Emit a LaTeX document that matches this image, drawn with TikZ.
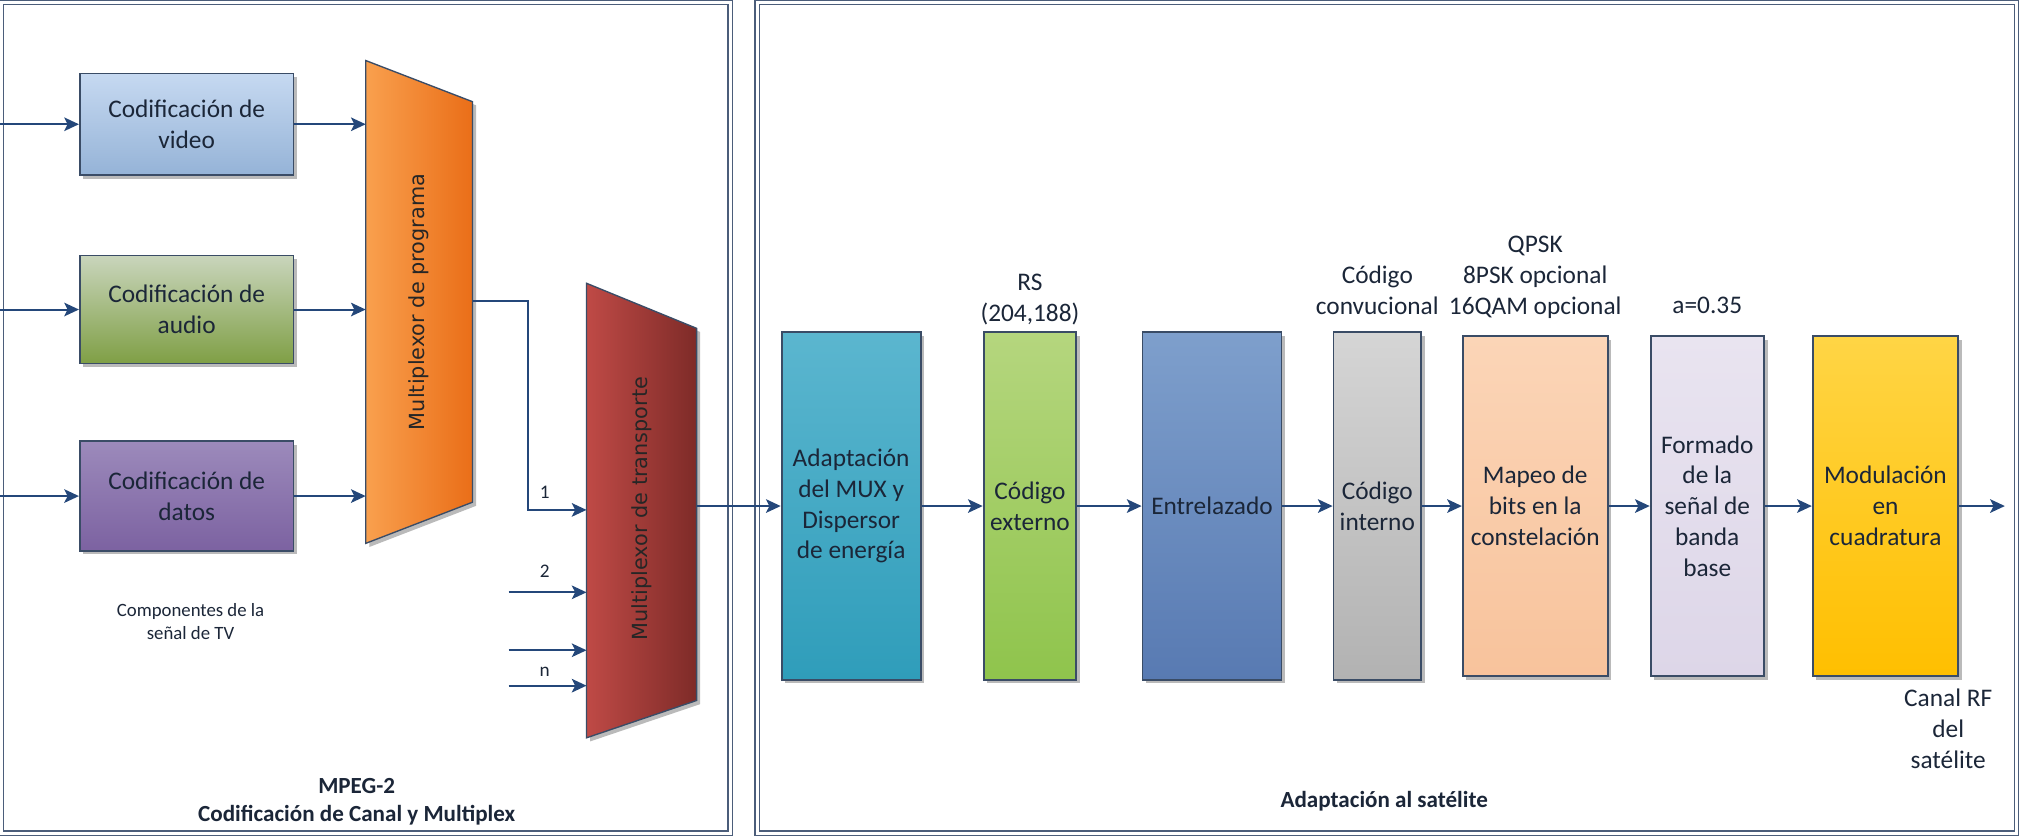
\documentclass[tikz,border=0pt]{standalone}
\usepackage{fontspec}
\setmainfont{Carlito}
\newfontfamily\muxfont{DejaVu Sans}
\usetikzlibrary{positioning,arrows.meta,shadows}

\definecolor{arrowc}{HTML}{24477A}
\definecolor{edgec}{HTML}{3A4C66}
\definecolor{framec}{HTML}{4B5D7A}
\definecolor{txtc}{HTML}{1B2638}
\definecolor{vidT}{HTML}{C6D9F1}\definecolor{vidB}{HTML}{95B3D7}
\definecolor{audT}{HTML}{C9D5BC}\definecolor{audB}{HTML}{7F9F45}
\definecolor{datT}{HTML}{9C8ABB}\definecolor{datB}{HTML}{7C62A1}
\definecolor{orgL}{HTML}{F9A04E}\definecolor{orgR}{HTML}{EA6E18}
\definecolor{redL}{HTML}{BF4A46}\definecolor{redR}{HTML}{7E2B28}
\definecolor{adaT}{HTML}{5BB6CF}\definecolor{adaB}{HTML}{2F9DBA}
\definecolor{extT}{HTML}{B5D67E}\definecolor{extB}{HTML}{8FC44C}
\definecolor{entT}{HTML}{7E9FCC}\definecolor{entB}{HTML}{587AB2}
\definecolor{intT}{HTML}{D5D5D5}\definecolor{intB}{HTML}{B2B2B2}
\definecolor{mapT}{HTML}{FBD5B7}\definecolor{mapB}{HTML}{F8C39C}
\definecolor{forT}{HTML}{E9E4F0}\definecolor{forB}{HTML}{DDD6E8}
\definecolor{modT}{HTML}{FFD545}\definecolor{modB}{HTML}{FFBF00}

\begin{document}
\begin{tikzpicture}[
  x=0.02cm, y=-0.02cm,
  box/.style={
    draw=edgec,
    line width=0.8pt,
    align=center,
    text=txtc,
    font=\fontsize{11.2}{13.6}\selectfont,
    inner sep=2pt,
    drop shadow={shadow xshift=1.6pt, shadow yshift=-1.6pt, fill=black!45, opacity=0.6}
  },
  lbox/.style={box, minimum width=3.32cm},
  rbox/.style={box, minimum height=5.4cm},
  note/.style={align=center, text=txtc, font=\fontsize{11.2}{13.6}\selectfont, inner sep=1pt},
  small/.style={align=center, text=txtc, font=\fontsize{8.3}{10.2}\selectfont},
  tag/.style={text=txtc, font=\fontsize{8.5}{10}\selectfont, inner sep=1pt},
  title/.style={align=center, text=txtc, font=\bfseries\fontsize{10.2}{12.2}\selectfont},
  mux/.style={draw=edgec, line width=0.6pt,
    drop shadow={shadow xshift=1.6pt, shadow yshift=-1.6pt, fill=black!45, opacity=0.6}},
  muxtxt/.style={rotate=90, text=black!85, font=\muxfont\fontsize{9.2}{11}\selectfont},
  panel/.style={draw=framec, line width=0.5pt, double=white, double distance=1.4pt},
  line/.style={draw=arrowc, line width=0.9pt, -{Stealth[length=6.5pt, width=6pt, inset=1.5pt]}}
]
\fill[white] (0,0) rectangle (1568,649);
\useasboundingbox (0,0) rectangle (1568,649);

% panels
\draw[panel] (1,2) rectangle (567,647);
\draw[panel] (588,2) rectangle (1566,647);

% MPEG-2 side
\node[lbox, minimum height=1.58cm, top color=vidT, bottom color=vidB] (video) at (145,96.5) {Codificación de\\video};
\node[lbox, minimum height=1.68cm, top color=audT, bottom color=audB, below=1.22cm of video] (audio) {Codificación de\\audio};
\node[lbox, minimum height=1.7cm, top color=datT, bottom color=datB, below=1.18cm of audio] (datos) {Codificación de\\datos};

\draw[mux, left color=orgL, right color=orgR]
  (284,47) coordinate (progNW) -- (367,79) coordinate (progNE)
  -- (367,390) coordinate (progSE) -- (284,422) coordinate (progSW) -- cycle;
\node[muxtxt] (progtxt) at (325.5,234.5) {Multiplexor de programa};

\draw[mux, left color=redL, right color=redR]
  (455.5,220) coordinate (transNW) -- (541,255) coordinate (transNE)
  -- (541,544) coordinate (transSE) -- (455.5,573) coordinate (transSW) -- cycle;
\node[muxtxt] (transtxt) at (498.5,395) {Multiplexor de transporte};

\coordinate (edge) at (0,0);
\coordinate (progout) at (367,234);
\coordinate (bend) at (410,396);
\coordinate (tin1) at (455.5,396);
\coordinate (in2) at (395,460);
\coordinate (in3) at (395,505);
\coordinate (inn) at (395,532.5);

\node[tag] (n1) at (423,382) {1};
\node[tag] (n2) at (423,444) {2};
\node[tag] (nn) at (423,522) {n};

\node[small] (compo) at (148,483) {Componentes de la\\señal de TV};
\node[title] (mpeg) at (277,622.5) {MPEG-2\\Codificación de Canal y Multiplex};

\draw[line] (video.west -| edge) -- (video.west);
\draw[line] (audio.west -| edge) -- (audio.west);
\draw[line] (datos.west -| edge) -- (datos.west);
\draw[line] (video.east) -- (video.east -| progNW);
\draw[line] (audio.east) -- (audio.east -| progNW);
\draw[line] (datos.east) -- (datos.east -| progNW);
\draw[line] (progout) -| (bend) -- (tin1);
\draw[line] (in2) -- (in2 -| transNW);
\draw[line] (in3) -- (in3 -| transNW);
\draw[line] (inn) -- (inn -| transNW);

% satellite side
\node[rbox, minimum width=2.16cm, top color=adaT, bottom color=adaB] (adapt) at (661,393) {Adaptación\\del MUX y\\Dispersor\\de energía};
\node[rbox, minimum width=1.44cm, top color=extT, bottom color=extB, right=0.95cm of adapt] (codext) {Código\\externo};
\node[rbox, minimum width=2.16cm, top color=entT, bottom color=entB, right=1.0cm of codext] (entrel) {Entrelazado};
\node[rbox, minimum width=1.36cm, top color=intT, bottom color=intB, right=0.78cm of entrel] (codint) {Código\\interno};
\node[box, minimum height=5.28cm, minimum width=2.25cm, top color=mapT, bottom color=mapB, right=0.62cm of codint] (mapeo) {Mapeo de\\bits en la\\constelación};
\node[box, minimum height=5.28cm, minimum width=1.76cm, top color=forT, bottom color=forB, right=0.64cm of mapeo] (formado) {Formado\\de la\\señal de\\banda\\base};
\node[box, minimum height=5.28cm, minimum width=2.26cm, top color=modT, bottom color=modB, right=0.73cm of formado] (modul) {Modulación\\en\\cuadratura};

\node[note, above=0.6mm of codext] (rs) {RS\\(204,188)};
\node[note, above=2.2mm of codint] (conv) {Código\\convucional};
\node[note, above=2.2mm of mapeo] (qpsk) {QPSK\\8PSK opcional\\16QAM opcional};
\node[note, above=2.9mm of formado] (alfa) {a=0.35};
\node[note] (rflabel) at (1513,566) {Canal RF\\del\\satélite};
\node[title] (sattitle) at (1075,622) {Adaptación al satélite};

\coordinate (rfout) at (1557,393);

\draw[line] (adapt.west -| transNE) -- (adapt.west);
\draw[line] (adapt) -- (codext);
\draw[line] (codext) -- (entrel);
\draw[line] (entrel) -- (codint);
\draw[line] (codint) -- (mapeo);
\draw[line] (mapeo) -- (formado);
\draw[line] (formado) -- (modul);
\draw[line] (modul) -- (rfout);
\end{tikzpicture}
\end{document}
